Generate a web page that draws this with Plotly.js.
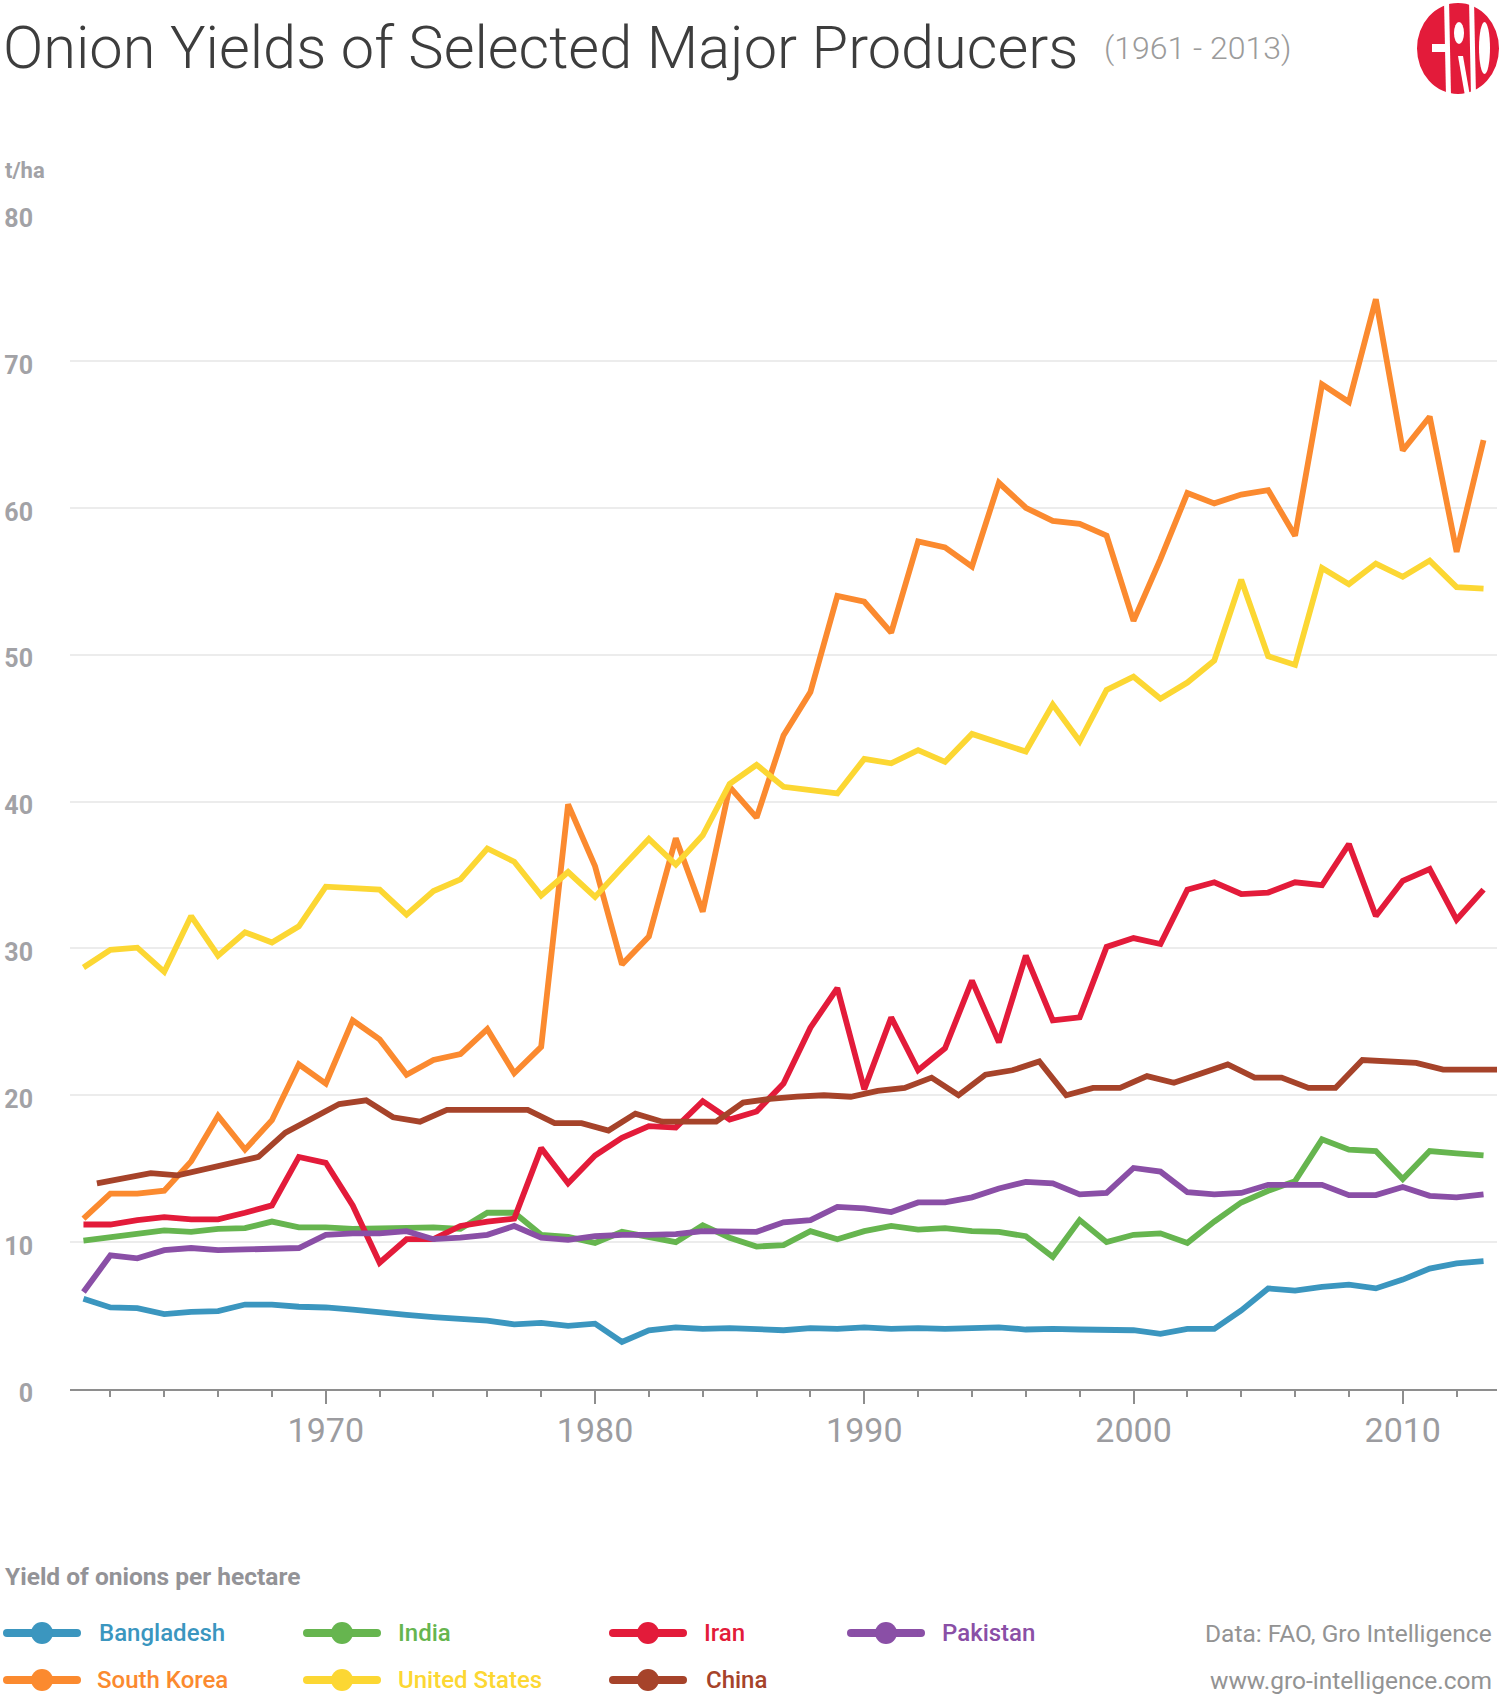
<!DOCTYPE html>
<html>
<head>
<meta charset="utf-8">
<script src="https://cdn.plot.ly/plotly-3.0.1.min.js"></script>
<style>
html,body{margin:0;padding:0;background:#fff;}
#chart{width:1500px;height:1697px;}
</style>
</head>
<body>
<div id="chart"></div>
<script>
// ---------------- DATA (t/ha) ----------------
const years = [1961,1962,1963,1964,1965,1966,1967,1968,1969,1970,
               1971,1972,1973,1974,1975,1976,1977,1978,1979,1980,
               1981,1982,1983,1984,1985,1986,1987,1988,1989,1990,
               1991,1992,1993,1994,1995,1996,1997,1998,1999,2000,
               2001,2002,2003,2004,2005,2006,2007,2008,2009,2010,
               2011,2012,2013];

const bangladesh = [6.15,5.55,5.5,5.1,5.25,5.3,5.75,5.75,5.6,5.55,
                    5.4,5.2,5.05,4.9,4.8,4.65,4.4,4.5,4.3,4.45,
                    3.2,4.0,4.2,4.1,4.15,4.05,4.0,4.15,4.1,4.2,
                    4.1,4.15,4.1,4.15,4.2,4.05,4.1,4.05,4.0,4.0,
                    3.75,4.1,4.1,5.35,6.85,6.7,6.95,7.1,6.85,7.45,
                    8.2,8.55,8.7];

const india = [10.1,10.35,10.6,10.8,10.7,10.9,10.95,11.4,11.0,11.0,
               10.9,10.95,11.0,11.0,10.9,12.0,12.0,10.5,10.35,9.95,
               10.7,10.35,10.0,11.15,10.3,9.7,9.8,10.75,10.2,10.75,
               11.1,10.85,10.95,10.75,10.7,10.4,9.0,11.5,10.0,10.5,
               10.6,9.95,11.4,12.7,13.5,14.15,17.0,16.3,16.2,14.3,
               16.2,16.05,15.9];

const iran = [11.2,11.2,11.5,11.7,11.55,11.55,12.0,12.5,15.8,15.4,
              12.5,8.6,10.2,10.2,11.1,11.4,11.6,16.4,14.0,15.9,
              17.1,17.9,17.8,19.6,18.35,18.9,20.8,24.6,27.3,20.4,
              25.3,21.7,23.2,27.8,23.6,29.5,25.1,25.3,30.1,30.7,
              30.3,34.0,34.5,33.7,33.8,34.5,34.3,37.1,32.2,34.6,
              35.4,31.95,34.0];

const pakistan = [6.6,9.1,8.9,9.45,9.6,9.45,9.5,9.55,9.6,10.5,
                  10.6,10.6,10.75,10.2,10.3,10.5,11.1,10.3,10.15,10.4,
                  10.5,10.5,10.55,10.75,10.75,10.7,11.35,11.5,12.4,12.3,
                  12.05,12.7,12.7,13.05,13.65,14.1,14.0,13.25,13.35,15.05,
                  14.8,13.4,13.25,13.35,13.9,13.9,13.9,13.2,13.2,13.75,
                  13.15,13.05,13.25];

const southKorea = [11.6,13.3,13.3,13.5,15.5,18.6,16.3,18.3,22.1,20.8,
                    25.1,23.8,21.4,22.4,22.8,24.5,21.5,23.3,39.8,35.6,
                    28.9,30.8,37.5,32.5,41.0,38.9,44.5,47.45,54.0,53.6,
                    51.5,57.7,57.3,56.0,61.7,60.0,59.1,58.9,58.1,52.3,
                    56.5,61.0,60.3,60.9,61.2,58.1,68.4,67.2,74.2,63.9,
                    66.2,57.0,64.6];

const unitedStates = [28.7,29.9,30.05,28.4,32.2,29.5,31.1,30.4,31.5,34.2,
                      34.1,34.0,32.3,33.9,34.7,36.8,35.9,33.6,35.2,33.5,
                      35.5,37.45,35.7,37.7,41.2,42.5,41.0,40.75,40.55,42.9,
                      42.6,43.5,42.7,44.6,44.05,43.4,46.6,44.1,47.6,48.5,
                      47.0,48.1,49.6,55.1,49.9,49.3,55.9,54.8,56.2,55.3,
                      56.4,54.6,54.5];

const china = [14.0,14.35,14.7,14.55,15.0,15.4,15.8,17.45,18.4,19.4,
               19.65,18.5,18.2,19.0,19.0,19.0,19.0,18.1,18.1,17.6,
               18.75,18.2,18.2,18.2,19.5,19.75,19.9,20.0,19.9,20.3,
               20.5,21.2,20.0,21.4,21.7,22.3,20.0,20.5,20.5,21.3,
               20.85,21.5,22.1,21.2,21.2,20.5,20.5,22.4,22.3,22.2,
               21.75,21.75,21.75];

// In the source chart the China series is drawn at mid-year positions.
const chinaYears = years.map(y => y + 0.5);

const seriesNames  = ["Bangladesh","India","Iran","Pakistan","South Korea","United States","China"];
const seriesColors = ["#3b96bf","#66b54f","#e31b3a","#8a4fa6","#fb8a2f","#fcd733","#a6432a"];
const seriesValues = [bangladesh, india, iran, pakistan, southKorea, unitedStates, china];
const seriesX      = [years, years, years, years, years, years, chinaYears];

const yTickVals = [0,10,20,30,40,50,60,70,80];
const xTickVals = [1970,1980,1990,2000,2010];

// ---------------- LAYOUT HELPERS (pixel -> paper) ----------------
const W = 1500, H = 1697;
const M = {l:70, r:3, t:214, b:308};
const PW = W - M.l - M.r, PH = H - M.t - M.b;
const px = x => (x - M.l) / PW;
const py = y => (H - M.b - y) / PH;

const FONT = "Roboto, 'Noto Sans', sans-serif";
const GREY = "#a2a2a6";

const traces = seriesNames.map((n, i) => ({
  type: "scatter",
  mode: "lines",
  name: n,
  x: seriesX[i],
  y: seriesValues[i],
  line: {color: seriesColors[i], width: 5.8},
  hoverinfo: "skip",
  showlegend: false
}));

// Custom legend (two rows) drawn as shapes + annotations
const legendPos = [
  {lx: 3,   tx: 97,  y: 1633},
  {lx: 303, tx: 396, y: 1633},
  {lx: 609, tx: 702, y: 1633},
  {lx: 847, tx: 940, y: 1633},
  {lx: 3,   tx: 95,  y: 1680},
  {lx: 303, tx: 396, y: 1680},
  {lx: 609, tx: 704, y: 1680}
];

const shapes = [];
const annotations = [];

legendPos.forEach((p, i) => {
  const c = seriesColors[i];
  shapes.push({type: "line", xref: "paper", yref: "paper",
    x0: px(p.lx + 4), x1: px(p.lx + 74), y0: py(p.y), y1: py(p.y),
    line: {color: c, width: 8}});
  shapes.push({type: "circle", xref: "paper", yref: "paper",
    x0: px(p.lx), x1: px(p.lx + 8), y0: py(p.y - 4), y1: py(p.y + 4),
    fillcolor: c, line: {width: 0}});
  shapes.push({type: "circle", xref: "paper", yref: "paper",
    x0: px(p.lx + 70), x1: px(p.lx + 78), y0: py(p.y - 4), y1: py(p.y + 4),
    fillcolor: c, line: {width: 0}});
  shapes.push({type: "circle", xref: "paper", yref: "paper",
    x0: px(p.lx + 28), x1: px(p.lx + 50), y0: py(p.y - 11), y1: py(p.y + 11),
    fillcolor: c, line: {width: 0}});
  annotations.push({xref: "paper", yref: "paper", x: px(p.tx), y: py(p.y),
    xanchor: "left", yanchor: "middle", showarrow: false, text: seriesNames[i],
    font: {family: FONT, size: 24, weight: 500, color: c}});
});

// Logo (GRO mark)
const LOGO_RED = "#e31b3a";
shapes.push({type: "circle", xref: "paper", yref: "paper",
  x0: px(1417), x1: px(1499), y0: py(94), y1: py(3), fillcolor: LOGO_RED, line: {width: 0}});
shapes.push({type: "path", xref: "paper", yref: "paper",
  path: `M ${px(1444)},${py(0)} L ${px(1449)},${py(0)} L ${px(1451)},${py(96)} L ${px(1446)},${py(96)} Z`,
  fillcolor: "#ffffff", line: {width: 0}});
shapes.push({type: "path", xref: "paper", yref: "paper",
  path: `M ${px(1469)},${py(0)} L ${px(1474)},${py(0)} L ${px(1476)},${py(96)} L ${px(1471)},${py(96)} Z`,
  fillcolor: "#ffffff", line: {width: 0}});
shapes.push({type: "circle", xref: "paper", yref: "paper",
  x0: px(1479), x1: px(1490), y0: py(74), y1: py(22), fillcolor: "#ffffff", line: {width: 0}});
shapes.push({type: "circle", xref: "paper", yref: "paper",
  x0: px(1454), x1: px(1464), y0: py(44), y1: py(22), fillcolor: "#ffffff", line: {width: 0}});
shapes.push({type: "rect", xref: "paper", yref: "paper",
  x0: px(1432), x1: px(1446), y0: py(52), y1: py(44), fillcolor: "#ffffff", line: {width: 0}});
shapes.push({type: "path", xref: "paper", yref: "paper",
  path: `M ${px(1458)},${py(56)} L ${px(1463)},${py(56)} L ${px(1470)},${py(96)} L ${px(1465)},${py(96)} Z`,
  fillcolor: "#ffffff", line: {width: 0}});

// Texts
annotations.push(
  {xref: "paper", yref: "paper", x: px(1102), y: py(48), xanchor: "left", yanchor: "middle",
   showarrow: false, text: "(1961 - 2013)",
   font: {family: FONT, size: 32, weight: 300, color: "#9b9b9b"}},
  {xref: "paper", yref: "paper", x: px(3), y: py(170), xanchor: "left", yanchor: "middle",
   showarrow: false, text: "t/ha",
   font: {family: FONT, size: 22, weight: 700, color: GREY}},
  {xref: "paper", yref: "paper", x: px(3), y: py(1576), xanchor: "left", yanchor: "middle",
   showarrow: false, text: "Yield of onions per hectare",
   font: {family: FONT, size: 24.5, weight: 700, color: "#939397"}},
  {xref: "paper", yref: "paper", x: px(1494), y: py(1633), xanchor: "right", yanchor: "middle",
   showarrow: false, text: "Data: FAO, Gro Intelligence",
   font: {family: FONT, size: 24.5, weight: 400, color: "#939393"}},
  {xref: "paper", yref: "paper", x: px(1494), y: py(1680), xanchor: "right", yanchor: "middle",
   showarrow: false, text: "www.gro-intelligence.com",
   font: {family: FONT, size: 24.5, weight: 400, color: "#939393"}}
);

const layout = {
  width: W, height: H,
  margin: M,
  paper_bgcolor: "#ffffff",
  plot_bgcolor: "#ffffff",
  showlegend: false,
  title: {
    text: "Onion Yields of Selected Major Producers",
    xref: "container", yref: "container",
    x: 3 / W, xanchor: "left",
    y: 1 - 47 / H, yanchor: "middle",
    font: {family: FONT, size: 59.5, weight: 300, color: "#3d3d3d"}
  },
  xaxis: {
    range: [1960.5, 2013.5],
    tickmode: "array",
    tickvals: xTickVals,
    ticktext: xTickVals.map(String),
    ticks: "outside", ticklen: 13, tickwidth: 2, tickcolor: "#8e8e8e",
    showline: true, linecolor: "#8e8e8e", linewidth: 2,
    showgrid: false, zeroline: false,
    ticklabelstandoff: -3,
    tickfont: {family: FONT, size: 34, color: "#9c9ca0"},
    minor: {dtick: 2, tick0: 1960, ticks: "outside", ticklen: 6, tickwidth: 2,
            tickcolor: "#8e8e8e", showgrid: false},
    fixedrange: true
  },
  yaxis: {
    range: [0, 80],
    tickmode: "array",
    tickvals: yTickVals,
    ticktext: yTickVals.map(String),
    showgrid: true, gridcolor: "#ececec", gridwidth: 2,
    zeroline: false, showline: false, ticks: "",
    ticklabelstandoff: 36,
    ticklabelshift: 4,
    tickfont: {family: FONT, size: 25, weight: 700, color: GREY},
    fixedrange: true
  },
  shapes: shapes,
  annotations: annotations
};

Plotly.newPlot("chart", traces, layout, {displayModeBar: false, staticPlot: true});
</script>
</body>
</html>
